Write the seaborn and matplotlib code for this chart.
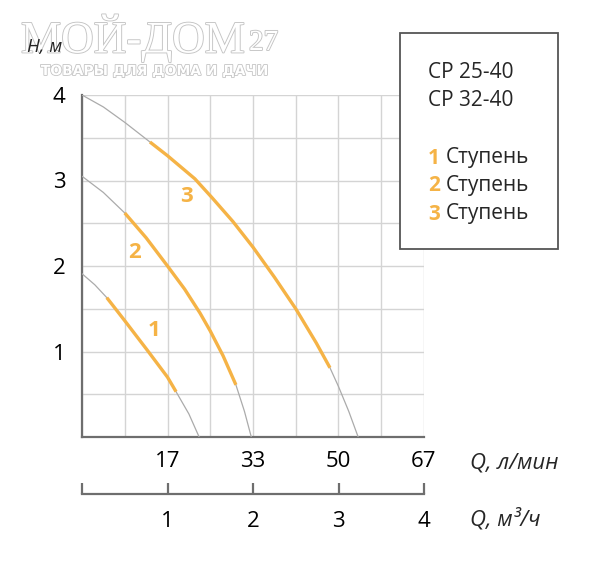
import matplotlib
matplotlib.use('Agg')
import matplotlib.pyplot as plt
import matplotlib.patheffects as pe
from matplotlib.patches import Rectangle
import seaborn as sns

# ---------------- data ----------------
q_ticks = [1, 2, 3, 4]                      # Q, m3/h
q_lmin_labels = ['17', '33', '50', '67']    # Q, l/min
q_m3h_labels = ['1', '2', '3', '4']
h_ticks = [1, 2, 3, 4]
h_labels = ['1', '2', '3', '4']

# full pump curves (grey)
c1_q = [0, 0.15, 0.29, 0.5, 0.76, 1.0, 1.10, 1.25, 1.37]
c1_h = [1.91, 1.78, 1.63, 1.36, 1.02, 0.70, 0.53, 0.27, 0.0]
c2_q = [0, 0.25, 0.5, 0.75, 1.0, 1.2, 1.38, 1.5, 1.65, 1.80, 1.90, 1.98]
c2_h = [3.05, 2.86, 2.62, 2.33, 2.00, 1.73, 1.45, 1.24, 0.95, 0.61, 0.30, 0.0]
c3_q = [0, 0.25, 0.5, 0.795, 1.0, 1.32, 1.52, 1.765, 2.0, 2.25, 2.5, 2.74, 2.90, 3.0, 3.12, 3.23]
c3_h = [4.0, 3.86, 3.68, 3.45, 3.29, 3.02, 2.80, 2.52, 2.22, 1.87, 1.50, 1.10, 0.81, 0.59, 0.30, 0.0]

# working ranges (orange)
w1_q = [0.29, 0.5, 0.76, 1.0, 1.10]
w1_h = [1.63, 1.36, 1.02, 0.70, 0.53]
w2_q = [0.5, 0.75, 1.0, 1.2, 1.38, 1.5, 1.65, 1.80]
w2_h = [2.62, 2.33, 2.00, 1.73, 1.45, 1.24, 0.95, 0.61]
w3_q = [0.795, 1.0, 1.32, 1.52, 1.765, 2.0, 2.25, 2.5, 2.74, 2.90]
w3_h = [3.45, 3.29, 3.02, 2.80, 2.52, 2.22, 1.87, 1.50, 1.10, 0.81]

step_names = ['1', '2', '3']
step_label_q = [0.84, 0.62, 1.22]
step_label_h = [1.24, 2.16, 2.81]

models = ['CP 25-40', 'CP 32-40']
legend_word = 'Ступень'

ORANGE = '#F5B346'
GREY = '#ababab'

# ---------------- figure ----------------
sns.set_theme(style='white')
plt.rcParams['font.family'] = ['Open Sans', 'DejaVu Sans']

fig = plt.figure(figsize=(6, 5.62), dpi=100)
W, H = 600, 562
ax = fig.add_axes([82 / W, 1 - 437 / H, 342 / W, 342 / H])

curves = [(c1_q, c1_h), (c2_q, c2_h), (c3_q, c3_h)]
works = [(w1_q, w1_h), (w2_q, w2_h), (w3_q, w3_h)]
for q, h in curves:
    sns.lineplot(x=q, y=h, ax=ax, color=GREY, lw=0.9, sort=False, estimator=None, zorder=3)
for q, h in works:
    sns.lineplot(x=q, y=h, ax=ax, color=ORANGE, lw=2.4, sort=False, estimator=None,
                 zorder=4, solid_capstyle='butt')

for name, x, y in zip(step_names, step_label_q, step_label_h):
    ax.text(x, y, name, color=ORANGE, fontsize=16, fontweight='bold',
            ha='center', va='center', zorder=5)

ax.set_xlim(0, 4)
ax.set_ylim(0, 4)
half = [i * 0.5 for i in range(9)]
x_lab = ['' for _ in half]
y_lab = ['' for _ in half]
for t, l in zip(q_ticks, q_lmin_labels):
    x_lab[half.index(t)] = l
for t, l in zip(h_ticks, h_labels):
    y_lab[half.index(t)] = l
ax.set_xticks(half, x_lab)
ax.set_yticks(half, y_lab)
ax.grid(True, which='major', color='#d4d4d4', lw=1.0, zorder=0)
ax.set_axisbelow(True)

ax.tick_params(axis='both', which='both', length=0)
ax.tick_params(axis='y', labelsize=16, pad=12, colors='black')
ax.tick_params(axis='x', labelsize=16, pad=10, colors='black')

for s in ['top', 'right']:
    ax.spines[s].set_visible(False)
for s in ['left', 'bottom']:
    ax.spines[s].set_color('#6e6e6e')
    ax.spines[s].set_linewidth(1.6)
ax.set_xlabel('')
ax.set_ylabel('')

# secondary axis m3/h
sec = ax.secondary_xaxis(-57 / 342)
sec.set_xticks([0] + q_ticks, [''] + q_m3h_labels)
sec.tick_params(axis='x', direction='in', length=8, width=1.6, color='#6e6e6e',
                labelsize=16, pad=12, labelcolor='black')
sec.spines['bottom'].set_color('#6e6e6e')
sec.spines['bottom'].set_linewidth(1.6)

# axis titles
fig.text(470 / W, 1 - 463 / H, 'Q, л/мин', fontsize=16, style='italic', ha='left', va='center')
fig.text(470 / W, 1 - 519 / H, 'Q, м³/ч', fontsize=16, style='italic', ha='left', va='center')

# watermark
wm = [pe.withStroke(linewidth=1.3, foreground='#c4c4c4')]
fig.text(21 / W, 1 - 38 / H, 'МОЙ-ДОМ', fontsize=32.5, family='Liberation Serif', color='white',
         ha='left', va='center', path_effects=wm, zorder=0)
fig.text(249 / W, 1 - 43 / H, '27', fontsize=21, family='Liberation Serif', color='white',
         ha='left', va='center', path_effects=wm, zorder=0)
fig.text(155 / W, 1 - 71 / H, 'ТОВАРЫ ДЛЯ ДОМА И ДАЧИ', fontsize=10, fontweight='bold',
         family='DejaVu Sans', color='white', ha='center', va='center',
         path_effects=[pe.withStroke(linewidth=1.2, foreground='#c4c4c4')], zorder=0)
fig.text(27 / W, 1 - 47 / H, 'H, м', fontsize=13.5, style='italic', ha='left', va='center', zorder=2)

# legend box
box = Rectangle((400 / W, 1 - 249 / H), 158 / W, 216 / H, transform=fig.transFigure,
                facecolor='white', edgecolor='#555555', lw=1.3, zorder=5)
fig.patches.append(box)
for i, m in enumerate(models):
    fig.text(428 / W, 1 - (73 + 27 * i) / H, m, fontsize=15, ha='left', va='center', zorder=6)
for i, n in enumerate(step_names):
    y = 1 - (158 + 28 * i) / H
    fig.text(428 / W, y, n, fontsize=15, fontweight='bold', color=ORANGE, ha='left', va='center', zorder=6)
    fig.text(446 / W, y, legend_word, fontsize=15, ha='left', va='center', zorder=6)

fig.savefig('out.png', dpi=100, facecolor='white')
